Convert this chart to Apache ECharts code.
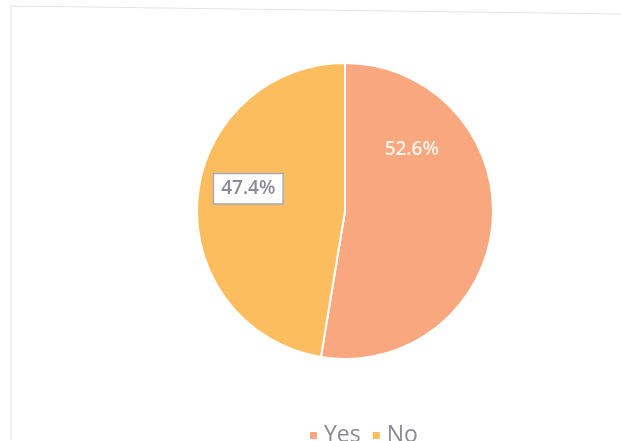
<!DOCTYPE html>
<html>
<head>
<meta charset="utf-8">
<script src="https://cdn.jsdelivr.net/npm/echarts@6/dist/echarts.min.js"></script>
<style>
html,body{margin:0;padding:0;background:#fff;}
#c{width:621px;height:441px;}
</style>
</head>
<body>
<div id="c"></div>
<script>
var categories = ['Yes', 'No'];
var values = [52.6, 47.4];
var colors = ['#F9A77E', '#FBBD5E'];

var chart = echarts.init(document.getElementById('c'));
var data = categories.map(function (c, i) {
  var isNo = i === 1;
  return {
    name: c,
    value: values[i],
    itemStyle: { color: colors[i] },
    label: isNo ? {
      color: '#8a8a9a',
      backgroundColor: '#ffffff',
      borderColor: '#a8a8b8',
      borderWidth: 1.5,
      padding: [6, 7, 4, 7],
      offset: [-20, -16]
    } : {
      color: '#fff3ea',
      offset: [-10, -68]
    }
  };
});
chart.setOption({
  animation: false,
  backgroundColor: '#ffffff',
  graphic: [{
    type: 'polyline',
    shape: { points: [[11, 440], [11, 6], [621, 14]] },
    style: { stroke: '#e4e4ec', lineWidth: 1.2, fill: null },
    silent: true
  }],
  legend: {
    bottom: -6,
    left: 308,
    padding: 0,
    itemWidth: 9,
    itemHeight: 9,
    itemGap: 10,
    icon: 'rect',
    textStyle: { color: '#8a8a96', fontSize: 23, fontFamily: 'Open Sans', padding: [0, 0, 0, 1] },
    data: categories
  },
  series: [{
    type: 'pie',
    center: [345, 211],
    radius: [0, 148],
    startAngle: 90,
    clockwise: true,
    data: data,
    itemStyle: { borderColor: '#ffffff', borderWidth: 2 },
    label: {
      position: 'inside',
      formatter: function (p) { return p.value.toFixed(1) + '%'; },
      fontSize: 19,
      fontWeight: 600,
      fontFamily: 'Open Sans'
    },
    labelLine: { show: false }
  }]
});
</script>
</body>
</html>
